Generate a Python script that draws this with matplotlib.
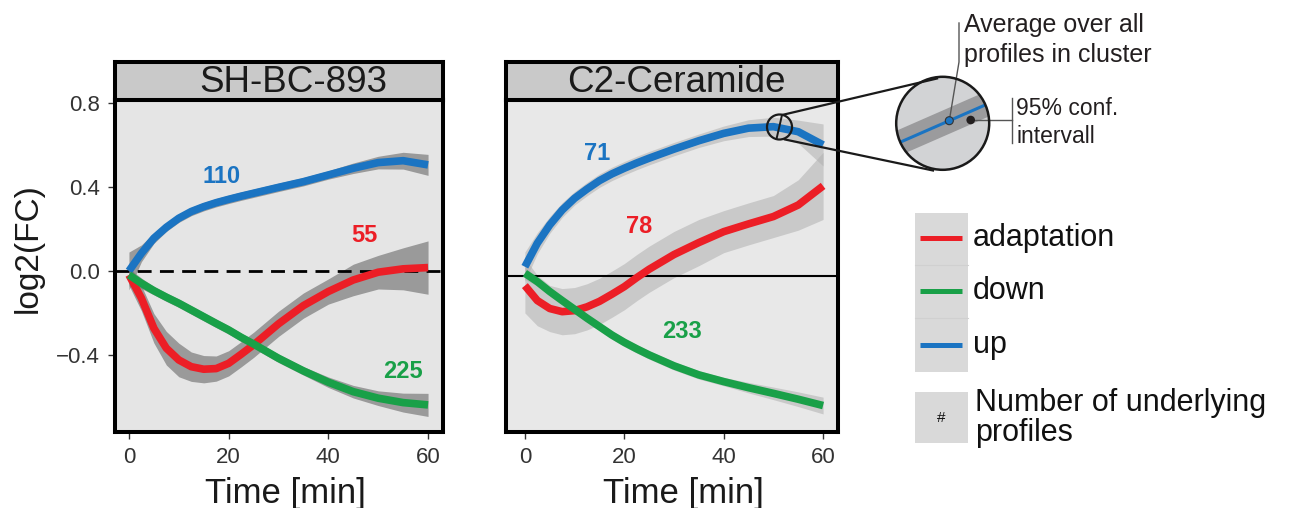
import matplotlib
matplotlib.use("Agg")
import matplotlib.pyplot as plt
from matplotlib.patches import Circle, Rectangle, Polygon
import numpy as np

plt.rcParams['font.family'] = ['Liberation Sans', 'DejaVu Sans']

# ---------------- data ----------------
time = [0, 2.5, 5, 7.5, 10, 12.5, 15, 17.5, 20, 22.5, 25, 30, 35, 40, 45, 50, 55, 60]

# SH-BC-893
sh_up = [0.0, 0.084, 0.156, 0.208, 0.251, 0.283, 0.306, 0.325, 0.341, 0.356, 0.37, 0.398, 0.425, 0.457, 0.489, 0.516, 0.525, 0.505]
sh_up_ci = [0.09, 0.04, 0.025, 0.02, 0.02, 0.02, 0.02, 0.02, 0.02, 0.02, 0.02, 0.02, 0.02, 0.02, 0.025, 0.03, 0.04, 0.05]
sh_adapt = [-0.019, -0.13, -0.273, -0.368, -0.424, -0.456, -0.468, -0.465, -0.44, -0.397, -0.352, -0.252, -0.165, -0.098, -0.043, -0.006, 0.01, 0.016]
sh_adapt_ci = [0.05, 0.06, 0.07, 0.08, 0.08, 0.07, 0.065, 0.06, 0.06, 0.06, 0.06, 0.06, 0.06, 0.06, 0.075, 0.08, 0.1, 0.127]
sh_down = [-0.019, -0.059, -0.094, -0.125, -0.154, -0.186, -0.218, -0.25, -0.281, -0.316, -0.348, -0.416, -0.476, -0.53, -0.575, -0.606, -0.627, -0.638]
sh_down_ci = [0.03, 0.025, 0.02, 0.02, 0.02, 0.02, 0.02, 0.02, 0.02, 0.02, 0.02, 0.02, 0.02, 0.025, 0.03, 0.035, 0.045, 0.055]

# C2-Ceramide
c2_up = [0.02, 0.132, 0.219, 0.29, 0.346, 0.39, 0.43, 0.462, 0.489, 0.514, 0.537, 0.58, 0.62, 0.655, 0.68, 0.687, 0.663, 0.6]
c2_up_ci = [0.07, 0.05, 0.04, 0.035, 0.032, 0.032, 0.032, 0.032, 0.032, 0.032, 0.032, 0.032, 0.032, 0.035, 0.04, 0.045, 0.055, 0.1]
c2_adapt = [-0.07, -0.141, -0.179, -0.194, -0.189, -0.171, -0.145, -0.111, -0.075, -0.032, 0.008, 0.078, 0.135, 0.187, 0.224, 0.259, 0.314, 0.405]
c2_adapt_ci = [0.13, 0.12, 0.11, 0.11, 0.11, 0.11, 0.11, 0.11, 0.11, 0.11, 0.11, 0.11, 0.11, 0.1, 0.1, 0.1, 0.12, 0.16]
c2_down = [-0.011, -0.051, -0.098, -0.141, -0.183, -0.225, -0.265, -0.305, -0.34, -0.371, -0.4, -0.452, -0.495, -0.527, -0.556, -0.583, -0.611, -0.641]
c2_down_ci = [0.03, 0.02, 0.02, 0.02, 0.02, 0.02, 0.02, 0.02, 0.02, 0.02, 0.02, 0.02, 0.02, 0.02, 0.025, 0.03, 0.035, 0.04]

panel_titles = ["SH-BC-893", "C2-Ceramide"]
sh_counts = {"up": ("110", 18.6, 0.449), "adaptation": ("55", 47.3, 0.171), "down": ("225", 55, -0.48)}
c2_counts = {"up": ("71", 14.6, 0.56), "adaptation": ("78", 23, 0.211), "down": ("233", 31.7, -0.289)}

x_ticks = [0, 20, 40, 60]
y_ticks = [-0.4, 0.0, 0.4, 0.8]
y_ticklabels = ["\u22120.4", "0.0", "0.4", "0.8"]
legend_labels = ["adaptation", "down", "up"]

colors = {"adaptation": "#ec1e26", "down": "#19a048", "up": "#1b74c2"}

# ---------------- figure ----------------
W, H = 1294, 508
fig = plt.figure(figsize=(W / 100, H / 100), dpi=100)


def fr(x0, y0, x1, y1):
    return [x0 / W, 1 - y1 / H, (x1 - x0) / W, (y1 - y0) / H]


SPW = 2.9


def make_panel(px0, px1, xlim, bg, title, title_xfrac, series, counts, band_col, band_alpha,
               hline_y, dashed, show_y):
    ax = fig.add_axes(fr(px0, 100, px1, 432))
    ax.set_facecolor(bg)
    ax.set_xlim(*xlim)
    ax.set_ylim(-0.767, 0.814)
    for s in ax.spines.values():
        s.set_linewidth(SPW)
        s.set_color("black")
    ax.set_xticks(x_ticks)
    ax.set_xticklabels([str(v) for v in x_ticks])
    ax.tick_params(axis="both", direction="out", length=5, width=1.0, color="#333333",
                   labelsize=16, labelcolor="#333333", pad=6)
    if show_y:
        ax.set_yticks(y_ticks)
        ax.set_yticklabels(y_ticklabels)
    else:
        ax.set_yticks([])
    t = np.array(time)
    for name in ["adaptation", "down", "up"]:
        y, ci = series[name]
        y = np.array(y); ci = np.array(ci)
        ax.fill_between(t, y - ci, y + ci, color=band_col, alpha=band_alpha, lw=0, zorder=2)
    if dashed:
        ax.axhline(hline_y, color="black", lw=2.0, ls=(0, (5, 3)), zorder=3)
    else:
        ax.axhline(hline_y, color="black", lw=1.5, zorder=3)
    for name in ["adaptation", "up", "down"]:
        y, ci = series[name]
        ax.plot(t, y, color=colors[name], lw=5.5, solid_capstyle="butt", solid_joinstyle="round", zorder=4)
    for name, (txt, tx, ty) in counts.items():
        ax.text(tx, ty, txt, color=colors[name], fontsize=17, fontweight="bold",
                ha="center", va="center", zorder=5)
    # strip
    st = fig.add_axes(fr(px0, 62, px1, 100))
    st.set_facecolor("#c9c9c9")
    st.set_xticks([]); st.set_yticks([])
    for s in st.spines.values():
        s.set_linewidth(SPW)
    st.text(title_xfrac, 0.47, title, fontsize=26.5, ha="center", va="center", transform=st.transAxes,
            color="#1a1a1a")
    return ax


ax1 = make_panel(115, 443, (-2.8, 63.0), "#e5e5e5", panel_titles[0], 0.543,
                 {"up": (sh_up, sh_up_ci), "adaptation": (sh_adapt, sh_adapt_ci), "down": (sh_down, sh_down_ci)},
                 sh_counts, "#7a7a7a", 0.7, 0.0, True, True)
ax2 = make_panel(506, 838, (-3.8, 63.0), "#e8e8e8", panel_titles[1], 0.512,
                 {"up": (c2_up, c2_up_ci), "adaptation": (c2_adapt, c2_adapt_ci), "down": (c2_down, c2_down_ci)},
                 c2_counts, "#b0b0b0", 0.55, -0.025, False, False)

fig.text(28 / W, 1 - 248 / H, "log2(FC)", rotation=90, fontsize=24, ha="center", va="center", color="#1a1a1a")
fig.text(285 / W, 1 - 494 / H, "Time [min]", fontsize=25, ha="center", va="center", color="#1a1a1a")
fig.text(683 / W, 1 - 494 / H, "Time [min]", fontsize=25, ha="center", va="center", color="#1a1a1a")

# ---------------- overlay (annotations & legend) ----------------
ov = fig.add_axes([0, 0, 1, 1], zorder=10)
ov.set_xlim(0, W); ov.set_ylim(H, 0)
ov.axis("off")
ov.patch.set_alpha(0)

# small circle in panel
ov.add_patch(Circle((779.5, 127), 12.5, fill=False, ec="#1a1a1a", lw=1.6))
ov.plot([776.5, 782], [139, 115], color="#1a1a1a", lw=1.4)
ov.plot([782, 937], [115, 78.5], color="#1a1a1a", lw=1.6)
ov.plot([785, 933], [139.5, 170.5], color="#1a1a1a", lw=1.6)

# magnifier
cx, cy, r = 942.7, 123.3, 46.5
big = Circle((cx, cy), r, fc="#d2d3d5", ec="none", zorder=1)
ov.add_patch(big)
d = np.array([80.0, -35.0]); d /= np.linalg.norm(d)
n = np.array([-d[1], d[0]])
p0 = np.array([949.3, 120.7])
hw = 12
band = Polygon([p0 - 90 * d - hw * n, p0 + 90 * d - hw * n, p0 + 90 * d + hw * n, p0 - 90 * d + hw * n],
               closed=True, fc="#9b9b9d", ec="none", zorder=2)
ov.add_patch(band); band.set_clip_path(big)
ln, = ov.plot([p0[0] - 90 * d[0], p0[0] + 90 * d[0]], [p0[1] - 90 * d[1], p0[1] + 90 * d[1]],
              color="#1b74c2", lw=2.2, zorder=3)
ln.set_clip_path(big)
ov.add_patch(Circle((cx, cy), r, fill=False, ec="#1a1a1a", lw=1.8, zorder=5))
ov.plot([949.3, 959, 959], [120.7, 62, 23], color="#555555", lw=1.0, zorder=4)
ov.add_patch(Circle(tuple(p0), 4.0, fc="#1b74c2", ec="#333333", lw=0.8, zorder=6))
ov.add_patch(Circle((970.7, 120), 4.3, fc="#231f20", ec="none", zorder=6))
ov.plot([970.7, 1011.5], [120, 120], color="#555555", lw=1.0)
ov.plot([1011.5, 1011.5], [98, 143], color="#555555", lw=1.0)

ov.text(964, 32, "Average over all", fontsize=18, ha="left", va="baseline", color="#231f20")
ov.text(964, 62, "profiles in cluster", fontsize=18, ha="left", va="baseline", color="#231f20")
ov.text(1016, 115, "95% conf.", fontsize=16.5, ha="left", va="baseline", color="#231f20")
ov.text(1016, 143, "intervall", fontsize=16.5, ha="left", va="baseline", color="#231f20")

# legend
ov.add_patch(Rectangle((915, 213), 53, 159, fc="#d9d9d9", ec="none"))
for yy in [265, 318]:
    ov.plot([915, 968], [yy, yy], color="#d0d0d0", lw=0.8)
for lab, yy in zip(legend_labels, [238, 291, 345]):
    ov.plot([920, 962], [yy, yy], color=colors[lab], lw=3.6, solid_capstyle="butt")
    ov.text(973, yy, lab, fontsize=22, ha="left", va="center", color="#111111")
ov.add_patch(Rectangle((915, 392), 53, 51, fc="#d9d9d9", ec="none"))
ov.text(941.5, 418, "#", fontsize=11, ha="center", va="center", color="#111111")
ov.text(975, 403, "Number of underlying", fontsize=22, ha="left", va="center", color="#111111")
ov.text(975, 433, "profiles", fontsize=22, ha="left", va="center", color="#111111")

fig.savefig("out.png", dpi=100)
